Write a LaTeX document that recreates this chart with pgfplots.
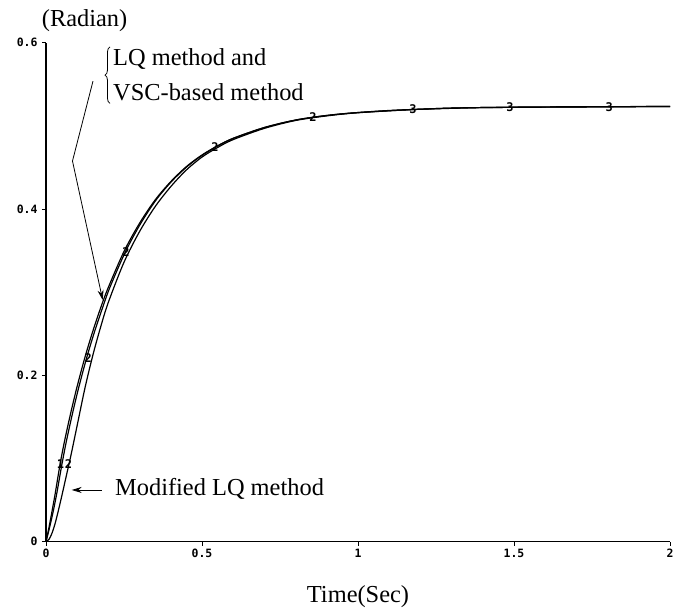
\documentclass[border=0pt]{standalone}
\usepackage{pgfplots}
\pgfplotsset{compat=1.18}
\usepackage{fontspec}
\setmainfont{Liberation Serif}
\newfontfamily\tickfont{DejaVu Sans Mono}
\usetikzlibrary{arrows.meta,decorations.pathreplacing}
\newcommand{\mk}[1]{{\tickfont\bfseries\fontsize{12}{12}\selectfont #1}}

\begin{document}
\begin{tikzpicture}
\useasboundingbox (-46bp,-67.3bp) rectangle (628bp,541.7bp);
\begin{axis}[
  at={(0,0)}, anchor=south west,
  scale only axis, width=624bp, height=499bp,
  xmin=0, xmax=2, ymin=0, ymax=0.6,
  axis x line*=bottom, axis y line*=left,
  axis line style={-, line width=1.2bp, black},
  xtick={0,0.5,1,1.5,2}, xticklabels={0,0.5,1,1.5,2},
  ytick={0,0.2,0.4,0.6}, yticklabels={0,0.2,0.4,0.6},
  tick align=outside, major tick length=4bp,
  tick style={line width=1bp, black},
  ticklabel style={font=\tickfont\bfseries\fontsize{11.5}{12}\selectfont},
  yticklabel style={xshift=-1bp},
  clip=false,
]
% LQ method
\addplot[black, line width=1.2bp, smooth] table {
0 0
0.01 0.018
0.02 0.038
0.03 0.059
0.045 0.093
0.06 0.122
0.08 0.156
0.10 0.187
0.125 0.222
0.15 0.253
0.175 0.281
0.2 0.306
0.25 0.349
0.3 0.383
0.35 0.411
0.4 0.433
0.45 0.451
0.5 0.465
0.55 0.476
0.6 0.485
0.7 0.498
0.8 0.507
0.9 0.5125
1.0 0.516
1.1 0.5185
1.2 0.520
1.4 0.522
1.6 0.5228
2.0 0.5233
};
% VSC-based method
\addplot[black, line width=1.2bp, smooth] table {
0 0
0.012 0.018
0.024 0.038
0.035 0.059
0.051 0.093
0.066 0.122
0.086 0.156
0.106 0.187
0.131 0.222
0.156 0.253
0.181 0.281
0.205 0.306
0.255 0.349
0.304 0.383
0.353 0.411
0.402 0.433
0.452 0.451
0.5 0.4645
0.55 0.4758
0.6 0.485
0.7 0.498
0.8 0.507
0.9 0.5125
1.0 0.516
1.2 0.520
1.4 0.522
2.0 0.5233
};
% Modified LQ method
\addplot[black, line width=1.2bp, smooth] table {
0 0
0.01 0.003
0.02 0.011
0.03 0.023
0.04 0.038
0.05 0.054
0.065 0.079
0.08 0.104
0.1 0.140
0.125 0.185
0.15 0.224
0.175 0.258
0.2 0.288
0.25 0.336
0.3 0.373
0.35 0.403
0.4 0.427
0.45 0.447
0.5 0.4625
0.55 0.474
0.6 0.4835
0.7 0.497
0.8 0.5065
0.9 0.512
1.0 0.5158
1.2 0.520
1.4 0.522
2.0 0.5233
};
% curve number marks
\addplot[black, only marks, mark=text, text mark={\mk{1}}] coordinates {(0.046,0.093)};
\addplot[black, only marks, mark=text, text mark={\mk{2}}] coordinates {(0.072,0.093) (0.1356,0.2209) (0.2564,0.3483) (0.5417,0.4746) (0.8558,0.511)};
\addplot[black, only marks, mark=text, text mark={\mk{3}}] coordinates {(1.176,0.520) (1.487,0.5227) (1.805,0.5227)};

% annotations
\draw[line width=0.8bp] (axis cs:0.1506,0.5538) -- (axis cs:0.0849,0.4577);
\draw[line width=0.8bp, -{Stealth[length=10bp,width=6bp]}] (axis cs:0.0849,0.4577) -- (axis cs:0.1817,0.2906);
\draw[line width=0.8bp, -{Stealth[length=10bp,width=6bp]}] (axis cs:0.178,0.0622) -- (axis cs:0.0824,0.0622);
\node[anchor=west, inner sep=0pt, font=\fontsize{24.5}{29}\selectfont] at (axis cs:-0.0138,0.627) {(Radian)};
\node[anchor=west, inner sep=0pt, align=left, font=\fontsize{24.5}{35}\selectfont] (br) at (axis cs:0.2147,0.561) {LQ method and\\VSC-based method};
\draw[line width=0.8bp, decorate, decoration={brace, amplitude=5bp}] ([xshift=-3bp,yshift=-2bp]br.south west) -- ([xshift=-3bp,yshift=2bp]br.north west);
\node[anchor=west, inner sep=0pt, font=\fontsize{24.5}{29}\selectfont] at (axis cs:0.221,0.0634) {Modified LQ method};
\node[inner sep=0pt, font=\fontsize{24.5}{29}\selectfont] at (axis cs:1.0,-0.066) {Time(Sec)};
\end{axis}
\end{tikzpicture}
\end{document}
